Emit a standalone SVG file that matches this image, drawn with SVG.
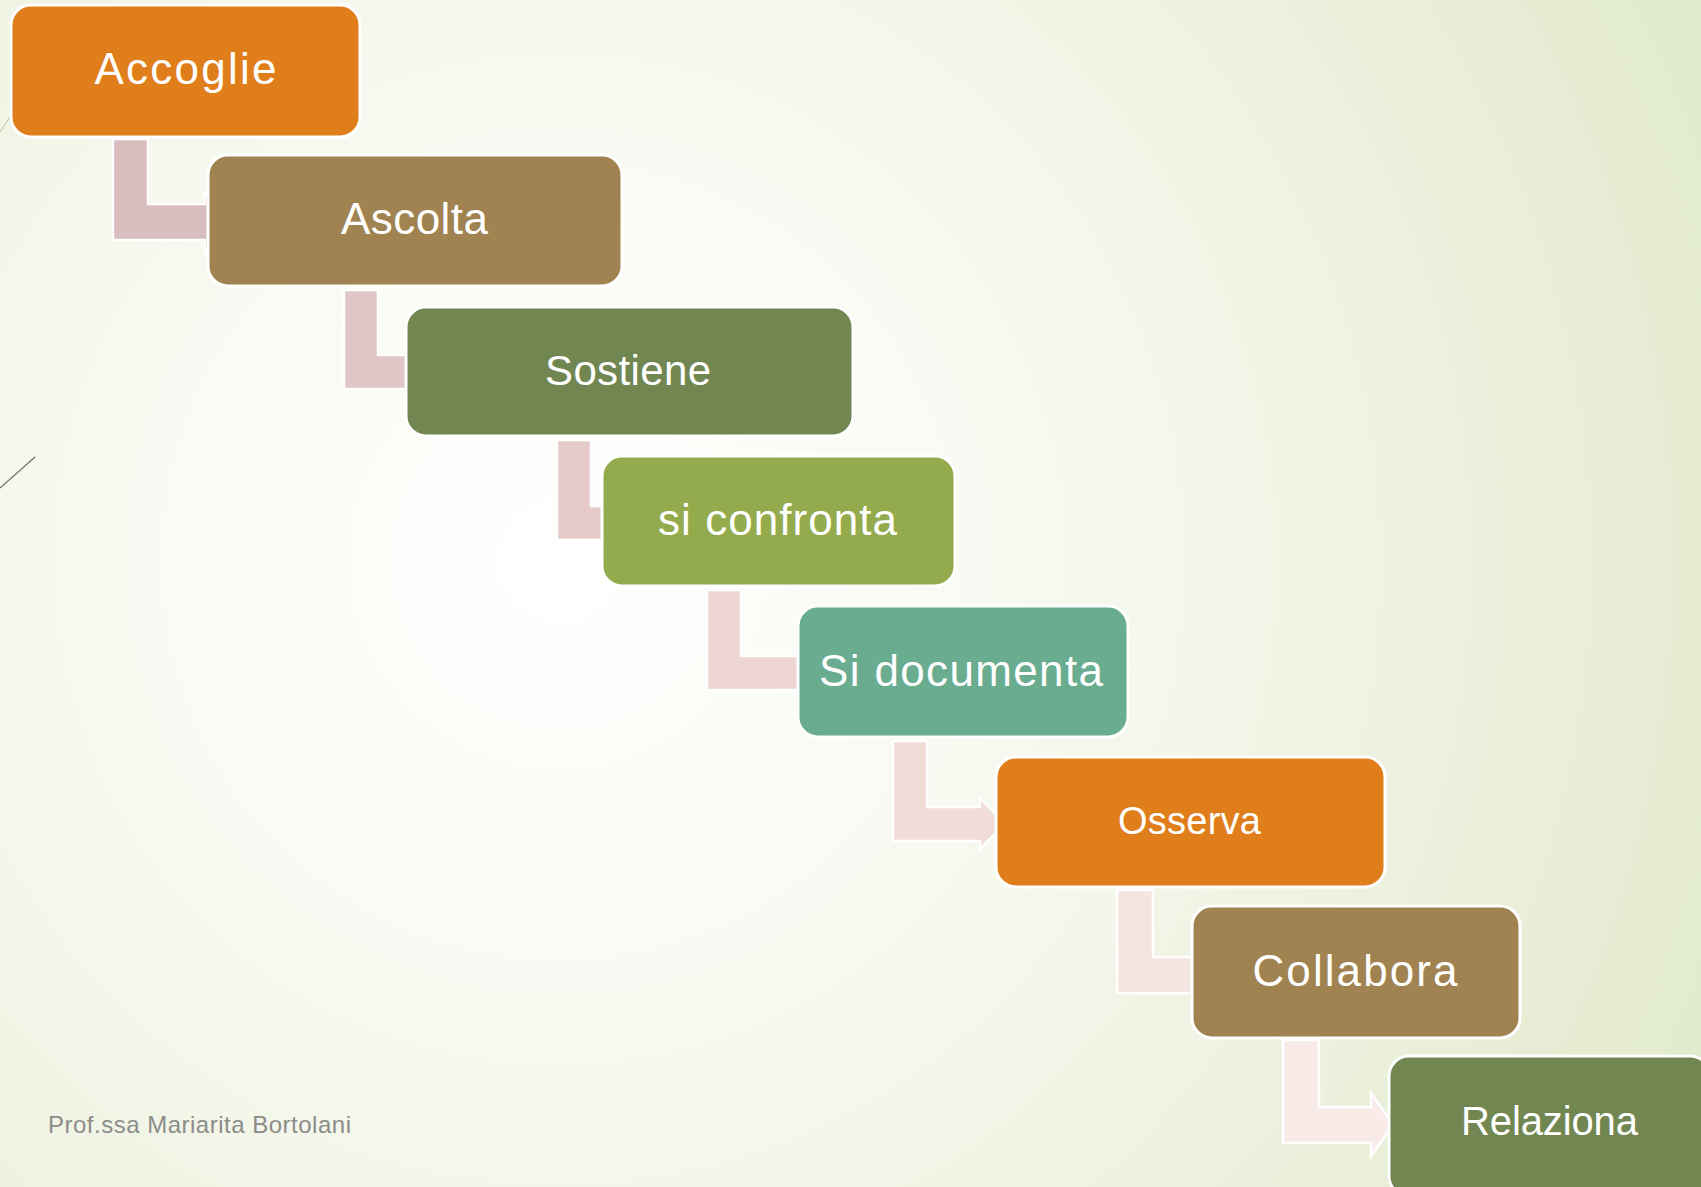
<svg xmlns="http://www.w3.org/2000/svg" width="1701" height="1187" viewBox="0 0 1701 1187">
<defs>
<radialGradient id="bg" cx="560" cy="560" r="1250" gradientUnits="userSpaceOnUse">
<stop offset="0" stop-color="#FFFFFF"/>
<stop offset="0.35" stop-color="#F8FAF2"/>
<stop offset="0.75" stop-color="#EBF0DC"/>
<stop offset="1" stop-color="#E2EACC"/>
</radialGradient>
<style>
.box{stroke:#FFFFFF;stroke-width:3}
.lbl{font-family:"Liberation Sans","DejaVu Sans",sans-serif;fill:#FFFFFF;text-anchor:middle}
.conn{stroke:#FFFFFF;stroke-width:2.5;stroke-linejoin:miter}
.foot{font-family:"Liberation Sans","DejaVu Sans",sans-serif;font-size:24px;fill:#8C8C8A}
</style>
</defs>
<rect x="0" y="0" width="1701" height="1187" fill="url(#bg)"/>
<line x1="0" y1="132" x2="10" y2="117" stroke="#B9C2A0" stroke-width="1"/>
<line x1="0" y1="488" x2="35" y2="457" stroke="#7A7462" stroke-width="1.3"/>

<g id="connectors">
<path class="conn" fill="#D9BEC0" d="M113,139 H148 V204 H205 V193 L232,222 L205,252 V240 H113 Z"/>
<path class="conn" fill="#E0C6C6" d="M344,290 H378 V355 H412 V345 L435,372 L412,399 V389 H344 Z"/>
<path class="conn" fill="#E6CBCA" d="M557,440 H591 V506 H608 V496 L630,523 L608,550 V540 H557 Z"/>
<path class="conn" fill="#EDD6D2" d="M707,590 H741 V656 H805 V646 L828,673 L805,700 V690 H707 Z"/>
<path class="conn" fill="#F1DDD8" d="M893,741 H927 V807 H980 V798 L1005,824 L980,849 V841 H893 Z"/>
<path class="conn" fill="#F5E5E1" d="M1117,890 H1153 V957 H1198 V947 L1220,975 L1198,1003 V993 H1117 Z"/>
<path class="conn" fill="#F8EBE8" d="M1283,1040 H1319 V1107 H1371 V1093 L1393,1125 L1371,1156 V1143 H1283 Z"/>
</g>

<g id="n1"><rect class="box" x="11" y="5" width="349" height="132" rx="20" fill="#DF7E1B"/><text class="lbl" style="font-size:44px" x="185.5" y="84" textLength="182" lengthAdjust="spacing">Accoglie</text></g>
<g id="n2"><rect class="box" x="208" y="155" width="414" height="131" rx="20" fill="#A08350"/><text class="lbl" style="font-size:44px" x="414.5" y="234" textLength="147" lengthAdjust="spacing">Ascolta</text></g>
<g id="n3"><rect class="box" x="406" y="307" width="447" height="129" rx="20" fill="#718651"/><text class="lbl" style="font-size:42px" x="628" y="385" textLength="166" lengthAdjust="spacing">Sostiene</text></g>
<g id="n4"><rect class="box" x="602" y="456" width="353" height="130" rx="20" fill="#93AB4D"/><text class="lbl" style="font-size:44px" x="777.5" y="535" textLength="239" lengthAdjust="spacing">si confronta</text></g>
<g id="n5"><rect class="box" x="798" y="606" width="330" height="131" rx="20" fill="#69AC8F"/><text class="lbl" style="font-size:44px" x="961" y="686" textLength="284" lengthAdjust="spacing">Si documenta</text></g>
<g id="n6"><rect class="box" x="996" y="757" width="389" height="130" rx="20" fill="#DF7E1B"/><text class="lbl" style="font-size:38px" x="1189.5" y="834" textLength="143" lengthAdjust="spacing">Osserva</text></g>
<g id="n7"><rect class="box" x="1192" y="906" width="328" height="132" rx="20" fill="#A08350"/><text class="lbl" style="font-size:44px" x="1355" y="986" textLength="205" lengthAdjust="spacing">Collabora</text></g>
<g id="n8"><rect class="box" x="1389" y="1056" width="321" height="140" rx="20" fill="#718651"/><text class="lbl" style="font-size:40px" x="1549.5" y="1135" textLength="177" lengthAdjust="spacing">Relaziona</text></g>

<text class="foot" x="48" y="1133" textLength="303" lengthAdjust="spacing">Prof.ssa Mariarita Bortolani</text>
</svg>
